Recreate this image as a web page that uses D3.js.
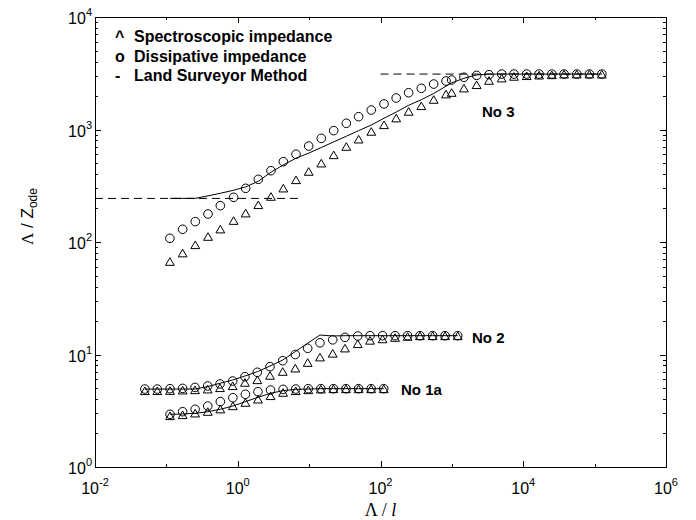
<!DOCTYPE html>
<html>
<head>
<meta charset="utf-8">
<script src="https://cdn.jsdelivr.net/npm/d3@7"></script>
<style>
body { margin: 0; background: #fff; }
text { font-family: "Liberation Sans", Arial, Helvetica, sans-serif; fill: #000; }
</style>
</head>
<body>
<script>
// No 3
var xNo3 = [0.112, 0.169, 0.254, 0.383, 0.57, 0.875, 1.29, 1.94, 2.92, 4.35, 6.55, 9.86,
  14.8, 22.1, 33.2, 49.4, 74.3, 112, 166, 248, 373, 556, 828, 993, 1476, 2223, 3311,
  4989, 7413, 11169, 16672, 25119, 37325, 56234, 84528, 126183];
var triNo3 = [66.8, 79.4, 94.0, 111.4, 129.7, 154.5, 179.9, 213.3, 252.9, 299.9, 355.6, 421.7,
  500, 592.9, 703.1, 816.6, 957.1, 1096, 1259, 1442, 1618, 1841, 2056, 2123, 2323, 2489, 2716,
  2851, 2951, 2992, 3027, 3048, 3090, 3090, 3090, 3090];
var circNo3 = [107.9, 129.7, 151.7, 177.4, 210.4, 249.5, 299.9, 360.6, 430.5, 517.6, 602.6, 712.9,
  833.7, 977.2, 1135, 1300, 1489, 1687, 1905, 2123, 2323, 2535, 2698, 2754, 2911, 3027, 3069,
  3112, 3112, 3112, 3112, 3112, 3112, 3112, 3112, 3112];
var lineNo3 = [244.3, 244.3, 244.3, 257, 271, 288.4, 309, 346.7, 416.9, 484.2, 555.9, 616.6,
  691.8, 776.2, 871, 977.2, 1096, 1259, 1429, 1641, 1841, 2089, 2427, 2600, 2851, 3055, 3105,
  3112, 3112, 3112, 3112, 3112, 3112, 3112, 3112, 3112];

// No 2
var xNo2 = [0.05, 0.0746, 0.1125, 0.169, 0.252, 0.379, 0.564, 0.849, 1.26, 1.88, 2.83, 4.27,
  6.4, 9.55, 14.2, 21.4, 31.8, 48, 71.3, 107, 160, 240, 357, 538, 802, 1208];
var triNo2 = [4.74, 4.74, 4.76, 4.8, 4.83, 4.9, 5.04, 5.25, 5.62, 5.93, 6.49, 7.03,
  7.53, 8.45, 9.44, 10.2, 11.35, 12.4, 13.3, 13.7, 14.1, 14.4, 14.6, 14.6, 14.6, 14.6];
var circNo2 = [4.93, 4.93, 4.97, 5.0, 5.1, 5.25, 5.47, 5.81, 6.35, 6.95, 7.8, 8.81,
  10.0, 11.35, 12.7, 13.5, 14.2, 14.6, 14.7, 14.7, 14.7, 14.7, 14.7, 14.7, 14.7, 14.7];
var lineNo2 = [4.93, 4.93, 4.93, 4.93, 4.93, 5.18, 5.55, 5.93, 6.44, 7.03, 7.9, 8.93,
  10.6, 12.6, 14.9, 14.6, 14.7, 14.7, 14.7, 14.7, 14.7, 14.7, 14.7, 14.7, 14.7, 14.7];

// No 1a
var xNo1a = [0.1125, 0.169, 0.253, 0.38, 0.57, 0.854, 1.28, 1.92, 2.88, 4.32, 6.49, 9.73,
  14.6, 21.9, 32.8, 49.3, 73.9, 111];
var triNo1a = [2.84, 2.9, 3.0, 3.1, 3.26, 3.48, 3.73, 3.99, 4.28, 4.58, 4.74, 4.83,
  4.9, 4.93, 4.93, 4.93, 4.93, 4.93];
var circNo1a = [2.94, 3.1, 3.26, 3.48, 3.81, 4.13, 4.43, 4.67, 4.83, 4.9, 4.93, 4.97,
  4.97, 4.97, 4.97, 4.97, 4.97, 4.97];
var lineNo1a = [2.94, 2.96, 3.0, 3.1, 3.26, 3.48, 3.81, 4.16, 4.52, 4.77, 4.9, 4.93,
  4.97, 4.97, 4.97, 4.97, 4.97, 4.97];

// dashed limits of No 3
var dashLowX = [0.01, 7.9];
var dashLowY = [244, 244];
var dashHighX = [100, 126000];
var dashHighY = [3110, 3110];

var xTickVals = [1e-2, 1e0, 1e2, 1e4, 1e6];
var xTickExp = ['-2', '0', '2', '4', '6'];
var xMinorVals = [1e-1, 1e1, 1e3, 1e5];
var yTickVals = [1e0, 1e1, 1e2, 1e3, 1e4];
var yTickExp = ['0', '1', '2', '3', '4'];

var legendSym = ['^', 'o', '-'];
var legendText = ['Spectroscopic impedance', 'Dissipative impedance', 'Land Surveyor Method'];

var margin = {top: 17, right: 30, bottom: 53, left: 95};
var width = 696 - margin.left - margin.right;
var height = 520 - margin.top - margin.bottom;

var x = d3.scaleLog().domain([1e-2, 1e6]).range([0, width]);
var y = d3.scaleLog().domain([1, 1e4]).range([height, 0]);

var yMinorVals = y.ticks().filter(function(d) {
  return yTickVals.indexOf(d) < 0;
});

var root = d3.select('body').append('svg')
  .attr('width', 696)
  .attr('height', 520);

var svg = root.append('g')
  .attr('transform', 'translate(' + margin.left + ',' + margin.top + ')');

// axes: box with inward ticks on all four sides
function addAxis(gen, tx, ty, vals, len) {
  var g = svg.append('g')
    .attr('transform', 'translate(' + tx + ',' + ty + ')')
    .call(gen.tickValues(vals).tickSize(-len).tickSizeOuter(0).tickFormat(''));
  g.selectAll('path, line').attr('stroke', '#000').attr('shape-rendering', 'crispEdges');
  return g;
}
addAxis(d3.axisBottom(x), 0, height, xTickVals, 6);
addAxis(d3.axisBottom(x), 0, height, xMinorVals, 3);
addAxis(d3.axisTop(x), 0, 0, xTickVals, 6);
addAxis(d3.axisTop(x), 0, 0, xMinorVals, 3);
addAxis(d3.axisLeft(y), 0, 0, yTickVals, 6);
addAxis(d3.axisLeft(y), 0, 0, yMinorVals, 3);
addAxis(d3.axisRight(y), width, 0, yTickVals, 6);
addAxis(d3.axisRight(y), width, 0, yMinorVals, 3);

// tick labels with superscript exponents
xTickVals.forEach(function(v, i) {
  var t = svg.append('text')
    .attr('x', x(v))
    .attr('y', height + 27)
    .attr('text-anchor', 'middle')
    .style('font-size', '16px')
    .text('10');
  t.append('tspan').attr('dy', -8).style('font-size', '11px').text(xTickExp[i]);
});

yTickVals.forEach(function(v, i) {
  var t = svg.append('text')
    .attr('x', -3)
    .attr('y', y(v) + 7)
    .attr('text-anchor', 'end')
    .style('font-size', '16px')
    .text('10');
  t.append('tspan').attr('dy', -8).style('font-size', '11px').text(yTickExp[i]);
});

// axis titles
var xl = root.append('text')
  .attr('x', margin.left + width / 2)
  .attr('y', 516)
  .attr('text-anchor', 'middle')
  .style('font-family', '"Liberation Serif", "Times New Roman", serif')
  .style('font-size', '18px')
  .text('\u039B / ');
xl.append('tspan').style('font-style', 'italic').text('l');

var yl = root.append('text')
  .attr('transform', 'translate(33,245) rotate(-90)')
  .style('font-size', '17px');
yl.append('tspan')
  .style('font-family', '"Liberation Serif", "Times New Roman", serif')
  .text('\u039B');
yl.append('tspan').text(' / Z');
yl.append('tspan').attr('dy', 4).style('font-size', '12px').text('ode');

// data
var line = d3.line()
  .x(function(d) { return x(d[0]); })
  .y(function(d) { return y(d[1]); });

function drawDash(xs, ys) {
  svg.append('path')
    .datum(d3.zip(xs, ys))
    .attr('d', line)
    .attr('fill', 'none')
    .attr('stroke', '#000')
    .attr('stroke-width', 1)
    .attr('stroke-dasharray', '8,5');
}
drawDash(dashLowX, dashLowY);
drawDash(dashHighX, dashHighY);

var tri = 'M0,-4L4.4,3.6L-4.4,3.6Z';

function drawSeries(xs, triY, circY, lineY) {
  svg.append('path')
    .datum(d3.zip(xs, lineY))
    .attr('d', line)
    .attr('fill', 'none')
    .attr('stroke', '#000')
    .attr('stroke-width', 1);

  svg.append('g').selectAll('circle')
    .data(d3.zip(xs, circY))
    .enter().append('circle')
    .attr('cx', function(d) { return x(d[0]); })
    .attr('cy', function(d) { return y(d[1]); })
    .attr('r', 4.3)
    .attr('fill', 'none')
    .attr('stroke', '#000');

  svg.append('g').selectAll('path')
    .data(d3.zip(xs, triY))
    .enter().append('path')
    .attr('d', tri)
    .attr('transform', function(d) { return 'translate(' + x(d[0]) + ',' + y(d[1]) + ')'; })
    .attr('fill', 'none')
    .attr('stroke', '#000');
}
drawSeries(xNo3, triNo3, circNo3, lineNo3);
drawSeries(xNo2, triNo2, circNo2, lineNo2);
drawSeries(xNo1a, triNo1a, circNo1a, lineNo1a);

// curve labels
function curveLabel(txt, px, py) {
  root.append('text')
    .attr('x', px)
    .attr('y', py)
    .style('font-size', '15px')
    .style('font-weight', 'bold')
    .text(txt);
}
curveLabel('No 3', 482, 117);
curveLabel('No 2', 472, 343);
curveLabel('No 1a', 401, 395);

// legend
legendText.forEach(function(s, i) {
  var by = 42 + i * 19.5;
  root.append('text')
    .attr('x', 115)
    .attr('y', by)
    .style('font-size', '16px')
    .style('font-weight', 'bold')
    .text(legendSym[i]);
  root.append('text')
    .attr('x', 134)
    .attr('y', by)
    .style('font-size', '16px')
    .style('font-weight', 'bold')
    .text(s);
});
</script>
</body>
</html>
